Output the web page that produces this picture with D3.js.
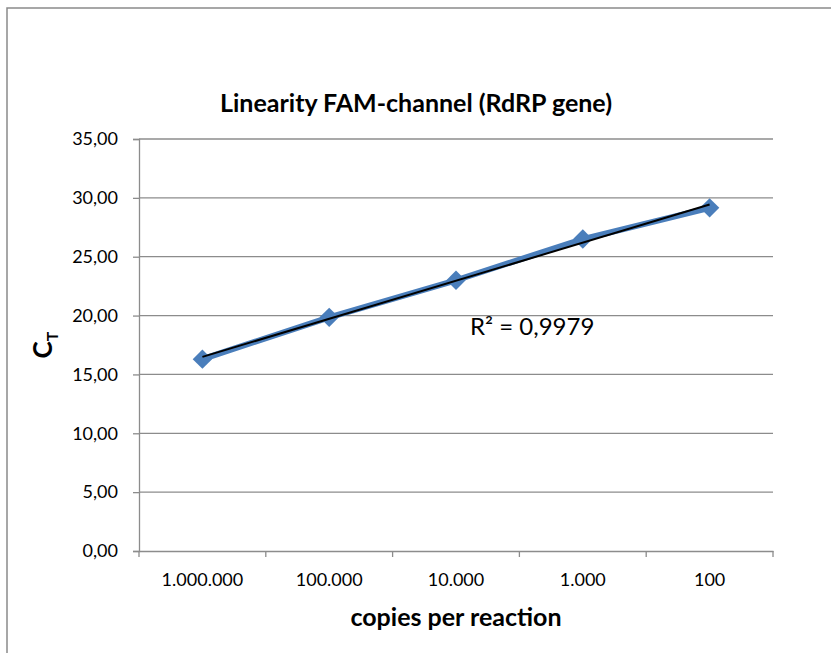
<!DOCTYPE html>
<html>
<head>
<meta charset="utf-8">
<script src="https://cdn.jsdelivr.net/npm/d3@7"></script>
<style>
  body { margin: 0; background: #fff; }
  text { font-family: Lato, "Open Sans", sans-serif; fill: #000; }
</style>
</head>
<body>
<svg width="831" height="653"></svg>
<script>
const width = 831;
const height = 653;

// chart data
const copies = ["1.000.000", "100.000", "10.000", "1.000", "100"];
const ct = [16.3, 19.85, 23.0, 26.5, 29.15];
const yTicks = [0, 5, 10, 15, 20, 25, 30, 35];
const r2Label = "R² = 0,9979";

const svg = d3.select('svg');

const margin = { left: 139, right: 58, top: 139, bottom: 102 };

// outer chart border (only top and left visible)
svg.append("path")
  .attr("d", `M7,${height} V8 H${width}`)
  .style("fill", "none")
  .style("stroke", "#8a8a8a")
  .style("stroke-width", 1.5);

const x = d3.scaleBand()
  .domain(copies)
  .range([margin.left, width - margin.right])
  .paddingInner(0)
  .paddingOuter(0);

const y = d3.scaleLinear()
  .domain([0, 35])
  .range([height - margin.bottom, margin.top]);

// gridlines
svg.selectAll("line.grid")
  .data(yTicks.filter(d => d > 0))
  .enter().append("line")
  .attr("class", "grid")
  .attr("x1", margin.left)
  .attr("x2", width - margin.right)
  .attr("y1", d => y(d))
  .attr("y2", d => y(d))
  .style("stroke", "#8c8c8c")
  .style("stroke-width", 1.3);

// y axis
const yAxis = svg.append("g")
  .attr("transform", `translate(${margin.left},0)`)
  .call(d3.axisLeft(y).tickValues(yTicks).tickSize(6).tickPadding(15)
    .tickFormat(d => d3.format(".2f")(d).replace(".", ",")));
yAxis.select(".domain").style("stroke", "#8c8c8c").style("stroke-width", 1.3);
yAxis.selectAll(".tick line").style("stroke", "#8c8c8c").style("stroke-width", 1.3);
yAxis.selectAll("text").style("font-size", "18px").style("font-family", "Lato");

// x axis
const xAxis = svg.append("g")
  .attr("transform", `translate(0,${y(0)})`)
  .call(d3.axisBottom(x).tickSize(0).tickPadding(22));
xAxis.select(".domain").style("stroke", "#8c8c8c").style("stroke-width", 1.3);
xAxis.selectAll("text").style("font-size", "18px").style("font-family", "Lato");

// x tick marks between categories
const bounds = copies.map(d => x(d)).concat([x(copies[copies.length - 1]) + x.bandwidth()]);
svg.selectAll("line.xtick")
  .data(bounds)
  .enter().append("line")
  .attr("class", "xtick")
  .attr("x1", d => d)
  .attr("x2", d => d)
  .attr("y1", y(0))
  .attr("y2", y(0) + 6)
  .style("stroke", "#8c8c8c")
  .style("stroke-width", 1.3);

const cx = d => x(d) + x.bandwidth() / 2;

// data line
const line = d3.line()
  .x((d, i) => cx(copies[i]))
  .y(d => y(d));

svg.append("path")
  .datum(ct)
  .attr("d", line)
  .style("fill", "none")
  .style("stroke", "#4a7ebb")
  .style("stroke-width", 6)
  .style("stroke-linejoin", "round");

// diamond markers
svg.selectAll("path.marker")
  .data(ct)
  .enter().append("path")
  .attr("class", "marker")
  .attr("d", d3.symbol().type(d3.symbolDiamond2).size(240))
  .attr("transform", (d, i) => `translate(${cx(copies[i])},${y(d)})`)
  .style("fill", "#4a7ebb");

// linear trendline (least squares over category index)
const n = ct.length;
const xs = d3.range(1, n + 1);
const mx = d3.mean(xs), my = d3.mean(ct);
const slope = d3.sum(xs, (v, i) => (v - mx) * (ct[i] - my)) / d3.sum(xs, v => (v - mx) ** 2);
const icpt = my - slope * mx;

svg.append("line")
  .attr("x1", cx(copies[0]))
  .attr("y1", y(icpt + slope * 1))
  .attr("x2", cx(copies[n - 1]))
  .attr("y2", y(icpt + slope * n))
  .style("stroke", "#000")
  .style("stroke-width", 2);

// R² label
svg.append("text")
  .attr("x", 470)
  .attr("y", 335)
  .style("font-size", "24px")
  .text(r2Label);

// title
svg.append("text")
  .attr("x", 416)
  .attr("y", 112)
  .attr("text-anchor", "middle")
  .style("font-size", "25px")
  .style("font-weight", "bold")
  .text("Linearity FAM-channel (RdRP gene)");

// x axis title
svg.append("text")
  .attr("x", (margin.left + width - margin.right) / 2)
  .attr("y", 626)
  .attr("text-anchor", "middle")
  .style("font-size", "25px")
  .style("font-weight", "bold")
  .text("copies per reaction");

// y axis title C_T
const yt = svg.append("text")
  .attr("transform", `translate(52,${(margin.top + y(0)) / 2}) rotate(-90)`)
  .attr("text-anchor", "middle")
  .style("font-size", "26px")
  .style("font-weight", "bold");
yt.append("tspan").text("C");
yt.append("tspan").attr("dy", 6).style("font-size", "16px").text("T");
</script>
</body>
</html>
